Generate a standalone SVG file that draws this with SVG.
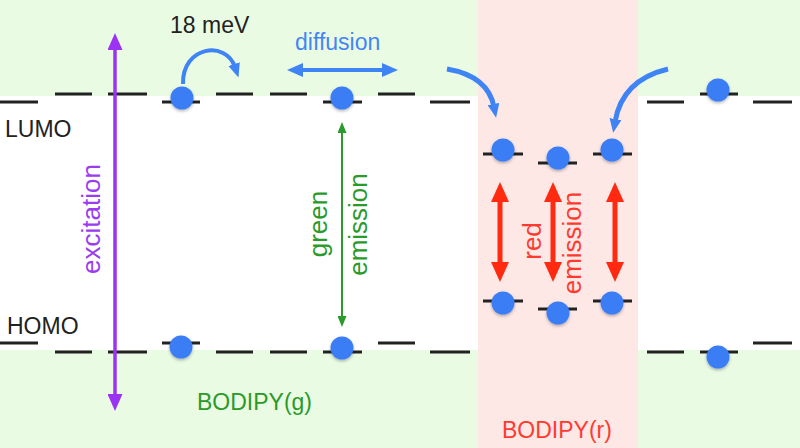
<svg xmlns="http://www.w3.org/2000/svg" width="800" height="448" viewBox="0 0 800 448">
<style>
  text { font-family: "Liberation Sans", Arial, sans-serif; font-size: 23px; }
  .vt { font-size: 26px; }
  .lvl { stroke: #222; stroke-width: 3; }
  .dot { fill: #3b7df5; filter: url(#sh); }
  .lbl { fill: #222; }
</style>
<defs>
  <filter id="sh" x="-40%" y="-40%" width="180%" height="180%">
    <feDropShadow dx="0" dy="1.5" stdDeviation="1.5" flood-color="#000" flood-opacity="0.3"/>
  </filter>
  <marker id="hr" viewBox="0 0 20 18" markerWidth="20" markerHeight="18" refX="6" refY="9" markerUnits="userSpaceOnUse" orient="auto-start-reverse">
    <path d="M0,0 L20,9 L0,18 z" fill="#ff2a10"/>
  </marker>
  <marker id="hp" viewBox="0 0 17 15" markerWidth="17" markerHeight="15" refX="4" refY="7.5" markerUnits="userSpaceOnUse" orient="auto-start-reverse">
    <path d="M0,0 L17,7.5 L0,15 z" fill="#9a33f2"/>
  </marker>
  <marker id="hg" viewBox="0 0 11 9" markerWidth="11" markerHeight="9" refX="3" refY="4.5" markerUnits="userSpaceOnUse" orient="auto-start-reverse">
    <path d="M0,0 L11,4.5 L0,9 z" fill="#2a9a2a"/>
  </marker>
  <marker id="hb" viewBox="0 0 16 14" markerWidth="16" markerHeight="14" refX="4" refY="7" markerUnits="userSpaceOnUse" orient="auto-start-reverse">
    <path d="M0,0 L16,7 L0,14 z" fill="#3f84f5"/>
  </marker>
  <marker id="hb2" viewBox="0 0 14 12" markerWidth="14" markerHeight="12" refX="3" refY="6" markerUnits="userSpaceOnUse" orient="auto">
    <path d="M0,0 L14,6 L0,12 z" fill="#3f84f5"/>
  </marker>
</defs>

<g id="background">
  <rect x="0" y="0" width="800" height="96" fill="#eafbe4"/>
  <rect x="0" y="350" width="800" height="98" fill="#eafbe4"/>
  <rect x="478" y="0" width="160" height="448" fill="#fde8e6"/>
</g>

<g id="lumo-levels">
  <line class="lvl" x1="0" y1="102" x2="38" y2="102"/>
  <line class="lvl" x1="55" y1="94" x2="92" y2="94"/>
  <line class="lvl" x1="108" y1="94" x2="147" y2="94"/>
  <line class="lvl" x1="162" y1="102" x2="200" y2="102"/>
  <line class="lvl" x1="216" y1="94" x2="253" y2="94"/>
  <line class="lvl" x1="270" y1="94" x2="307" y2="94"/>
  <line class="lvl" x1="323" y1="102" x2="362" y2="102"/>
  <line class="lvl" x1="378" y1="94" x2="415" y2="94"/>
  <line class="lvl" x1="430" y1="102" x2="470" y2="102"/>
  <line class="lvl" x1="647" y1="102" x2="684" y2="102"/>
  <line class="lvl" x1="700" y1="94" x2="738" y2="94"/>
  <line class="lvl" x1="753" y1="102" x2="792" y2="102"/>
</g>

<g id="homo-levels">
  <line class="lvl" x1="0" y1="343" x2="38" y2="343"/>
  <line class="lvl" x1="55" y1="352" x2="92" y2="352"/>
  <line class="lvl" x1="108" y1="352" x2="147" y2="352"/>
  <line class="lvl" x1="162" y1="343" x2="200" y2="343"/>
  <line class="lvl" x1="216" y1="352" x2="253" y2="352"/>
  <line class="lvl" x1="270" y1="352" x2="307" y2="352"/>
  <line class="lvl" x1="323" y1="352" x2="362" y2="352"/>
  <line class="lvl" x1="378" y1="343" x2="415" y2="343"/>
  <line class="lvl" x1="430" y1="352" x2="470" y2="352"/>
  <line class="lvl" x1="647" y1="352" x2="684" y2="352"/>
  <line class="lvl" x1="700" y1="352" x2="738" y2="352"/>
  <line class="lvl" x1="753" y1="343" x2="792" y2="343"/>
</g>

<g id="red-levels">
  <line class="lvl" x1="483" y1="154" x2="523" y2="154"/>
  <line class="lvl" x1="538" y1="163" x2="577" y2="163"/>
  <line class="lvl" x1="593" y1="154" x2="632" y2="154"/>
  <line class="lvl" x1="483" y1="301" x2="523" y2="301"/>
  <line class="lvl" x1="538" y1="309" x2="577" y2="309"/>
  <line class="lvl" x1="593" y1="301" x2="632" y2="301"/>
</g>

<g id="connectors" fill="none">
  <line x1="115" y1="46" x2="115" y2="398" stroke="#9a33f2" stroke-width="3.5" marker-start="url(#hp)" marker-end="url(#hp)"/>
  <line x1="342" y1="130" x2="342" y2="319" stroke="#2a9a2a" stroke-width="2" marker-start="url(#hg)" marker-end="url(#hg)"/>
  <line x1="299" y1="70" x2="386" y2="70" stroke="#3f84f5" stroke-width="4" marker-start="url(#hb)" marker-end="url(#hb)"/>
  <path d="M183,84 C182,46 226,40 235,67" stroke="#3f84f5" stroke-width="4" marker-end="url(#hb2)"/>
  <path d="M447,69 Q488,76 494,107" stroke="#3f84f5" stroke-width="5" marker-end="url(#hb2)"/>
  <path d="M668,69 Q622,80 615,122" stroke="#3f84f5" stroke-width="5" marker-end="url(#hb2)"/>
  <line x1="500" y1="196" x2="500" y2="268" stroke="#ff2a10" stroke-width="5" marker-start="url(#hr)" marker-end="url(#hr)"/>
  <line x1="553" y1="196" x2="553" y2="268" stroke="#ff2a10" stroke-width="5" marker-start="url(#hr)" marker-end="url(#hr)"/>
  <line x1="615" y1="196" x2="615" y2="268" stroke="#ff2a10" stroke-width="5" marker-start="url(#hr)" marker-end="url(#hr)"/>
</g>

<g id="electrons">
  <circle class="dot" cx="182" cy="98" r="11.5"/>
  <circle class="dot" cx="342" cy="98" r="11.5"/>
  <circle class="dot" cx="718" cy="90" r="11.5"/>
  <circle class="dot" cx="181" cy="347" r="11.5"/>
  <circle class="dot" cx="342" cy="348" r="11.5"/>
  <circle class="dot" cx="718" cy="357" r="11.5"/>
  <circle class="dot" cx="503" cy="150" r="11.5"/>
  <circle class="dot" cx="558" cy="158" r="11.5"/>
  <circle class="dot" cx="612" cy="150" r="11.5"/>
  <circle class="dot" cx="503" cy="303" r="11.5"/>
  <circle class="dot" cx="558" cy="313" r="11.5"/>
  <circle class="dot" cx="612" cy="303" r="11.5"/>
</g>

<g id="labels">
  <text class="lbl" x="170" y="33">18 meV</text>
  <text x="295" y="50" fill="#4286f4">diffusion</text>
  <text class="lbl" x="5" y="137">LUMO</text>
  <text class="lbl" x="7" y="334">HOMO</text>
  <text x="197" y="410" fill="#2a9a2a">BODIPY(g)</text>
  <text x="502" y="438" fill="#ff3b30">BODIPY(r)</text>
  <text class="vt" transform="translate(100,219) rotate(-90)" text-anchor="middle" fill="#9a3cf0">excitation</text>
  <text class="vt" transform="translate(326.5,224) rotate(-90)" text-anchor="middle" fill="#2a9a2a">green</text>
  <text class="vt" transform="translate(367,224.5) rotate(-90)" text-anchor="middle" fill="#2a9a2a">emission</text>
  <text class="vt" transform="translate(541,241) rotate(-90)" text-anchor="middle" fill="#ff3b30">red</text>
  <text class="vt" transform="translate(581,243) rotate(-90)" text-anchor="middle" fill="#ff3b30">emission</text>
</g>
</svg>
